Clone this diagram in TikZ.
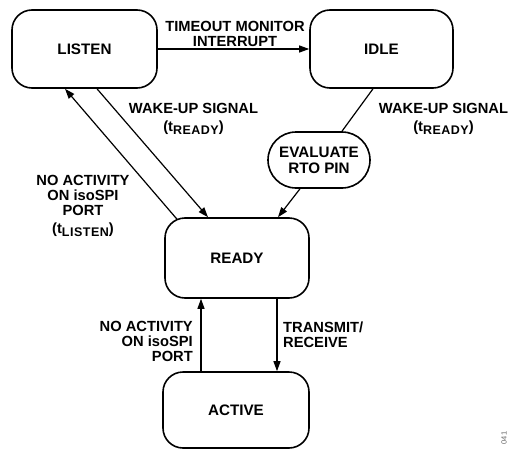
\documentclass[tikz,border=0pt]{standalone}
\usepackage{fontspec}
\setmainfont{Liberation Sans}
\usetikzlibrary{arrows.meta,calc}
\newcommand{\subtxt}[1]{\raisebox{-3pt}{\fontsize{12.5}{13}\selectfont\addfontfeature{LetterSpace=4}#1}}
\begin{document}
\begin{tikzpicture}[x=1pt,y=1pt,
  state/.style={draw,line width=1.6pt,rounded corners=20pt,inner sep=0pt,
    font=\fontsize{15.2}{16}\selectfont\bfseries},
  lbl/.style={inner sep=0pt,font=\fontsize{14.7}{15}\selectfont\bfseries},
  arr/.style={line width=1.2pt,-{Triangle[length=10pt,width=7pt]}},
  ln/.style={line width=1.2pt}]
\useasboundingbox (0,0) rectangle (509,-450);
\node[state,minimum width=145pt,minimum height=78pt] (listen) at (84.5,-49) {LISTEN};
\node[state,minimum width=143pt,minimum height=78pt] (idle) at (381.5,-49) {IDLE};
\node[state,minimum width=144pt,minimum height=80pt] (ready) at (237,-258) {READY};
\node[state,minimum width=146pt,minimum height=76pt] (active) at (236,-410) {ACTIVE};
\node[state,rounded corners=28pt,minimum width=102pt,minimum height=56pt,align=center] (eval) at (319,-160) {EVALUATE\\RTO PIN};
% connectors
\draw[arr] (listen.east) -- (idle.west);
\draw[arr] ([xshift=12.5pt]listen.south) -- ([xshift=-29pt]ready.north);
\draw[arr] ([xshift=-60pt,yshift=-2pt]ready.north) -- ([xshift=-19.5pt]listen.south);
\draw[ln] ([xshift=-8.5pt]idle.south) -- ([xshift=23pt]eval.north);
\draw[arr] ([xshift=-19pt]eval.south) -- ([xshift=41pt]ready.north);
\draw[arr] ([xshift=-35pt]active.north) -- ([xshift=-36pt]ready.south);
\draw[arr] ([xshift=40pt]ready.south) -- ([xshift=41pt]active.north);
% labels
\node[lbl,align=center] (tmo) at (235,-34) {TIMEOUT MONITOR\\INTERRUPT};
\node[lbl,align=center] (wk1) at (193.5,-119) {WAKE-UP SIGNAL\\[3pt](t\subtxt{READY})};
\node[lbl,align=center] (wk2) at (443.5,-119) {WAKE-UP SIGNAL\\[3pt](t\subtxt{READY})};
\node[lbl,align=center] (na1) at (83,-206) {NO ACTIVITY\\ON isoSPI\\PORT\\[3pt](t\subtxt{LISTEN})};
\node[lbl,align=right,anchor=east] (na2) at (193,-341) {NO ACTIVITY\\ON isoSPI\\PORT};
\node[lbl,align=left,anchor=west] (trx) at (283,-335) {TRANSMIT/\\RECEIVE};
\node[inner sep=0pt,rotate=90,text=black!60,font=\fontsize{7.5}{8}\selectfont] (fig) at (504,-438) {041};
\end{tikzpicture}
\end{document}
